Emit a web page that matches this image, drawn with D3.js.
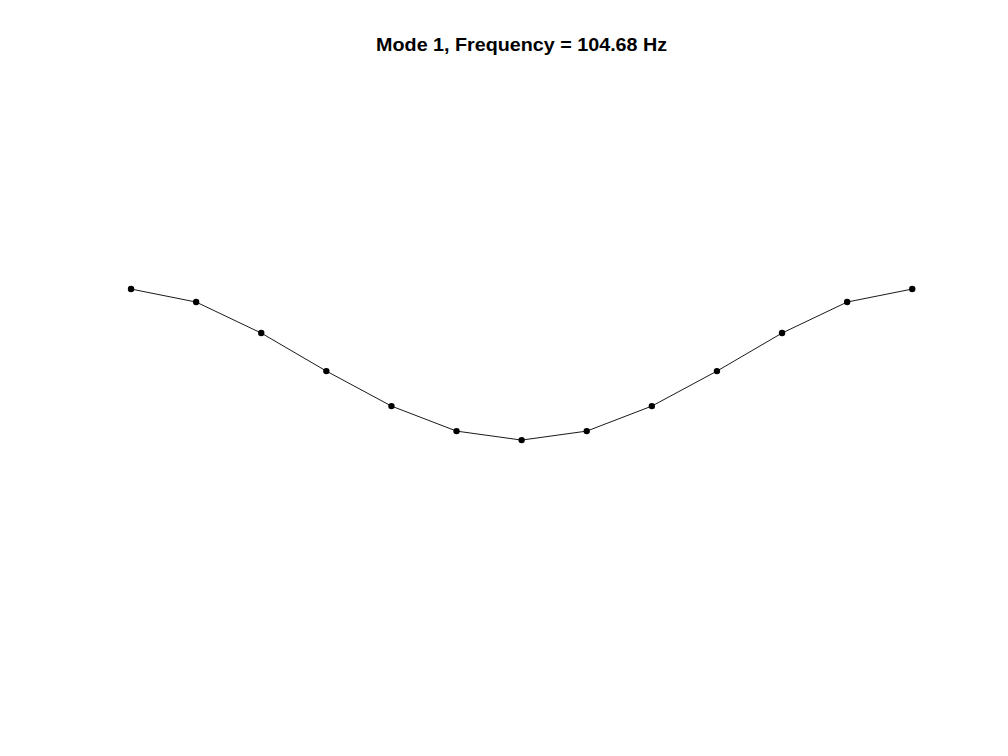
<!DOCTYPE html>
<html>
<head>
<meta charset="utf-8">
<script src="https://cdn.jsdelivr.net/npm/d3@7"></script>
<style>
  html, body { margin: 0; padding: 0; background: #fff; }
  svg { display: block; }
</style>
</head>
<body>
<script>
const nodes = [1, 2, 3, 4, 5, 6, 7, 8, 9, 10, 11, 12, 13];
const displacement = [0.2458, 0.2036, 0.1029, -0.0205, -0.1341, -0.2153, -0.2445,
                      -0.2153, -0.1341, -0.0205, 0.1029, 0.2036, 0.2458];
const titleText = "Mode 1, Frequency = 104.68 Hz";

const W = 1008, H = 756;
const left = 0.13 * W, width = 0.775 * W;
const bottom = H - 0.11 * H, height = 0.815 * H;

const svg = d3.select("body").append("svg").attr("width", W).attr("height", H);
svg.append("rect").attr("width", W).attr("height", H).attr("fill", "#fff");

const x = d3.scaleLinear().domain([1, 13]).range([left, left + width]);
const y = d3.scaleLinear().domain([-1, 1]).range([bottom, bottom - height]);

const pts = nodes.map((n, i) => [n, displacement[i]]);

svg.append("path")
  .datum(pts)
  .attr("fill", "none")
  .attr("stroke", "#000")
  .attr("stroke-width", 0.9)
  .attr("d", d3.line().x(d => x(d[0])).y(d => y(d[1])));

svg.selectAll("circle.pt")
  .data(pts)
  .enter().append("circle")
  .attr("class", "pt")
  .attr("cx", d => x(d[0]))
  .attr("cy", d => y(d[1]))
  .attr("r", 3.2)
  .attr("fill", "#000");

svg.append("text")
  .attr("x", left + width / 2)
  .attr("y", 51)
  .attr("text-anchor", "middle")
  .attr("font-family", "Liberation Sans, Arial, Helvetica, sans-serif")
  .attr("font-weight", "bold")
  .attr("font-size", 18.5)
  .attr("textLength", 291)
  .attr("lengthAdjust", "spacingAndGlyphs")
  .attr("fill", "#000")
  .text(titleText);
</script>
</body>
</html>
